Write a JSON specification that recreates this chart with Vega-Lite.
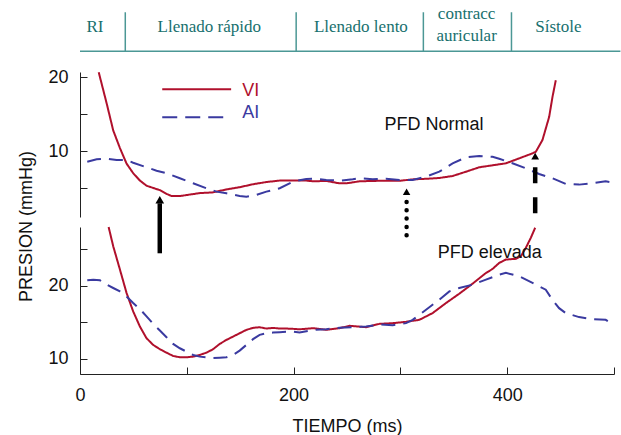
{
  "$schema": "https://vega.github.io/schema/vega-lite/v6.json",
  "padding": {"left": 17, "top": 4, "right": 5, "bottom": 5},
  "spacing": 10,
  "bounds": "flush",
  "config": {
    "view": {"stroke": null},
    "font": "Liberation Sans",
    "axis": {
      "domainColor": "#222222", "tickColor": "#222222", "labelColor": "#111111", "titleColor": "#111111",
      "labelFont": "Liberation Sans", "titleFont": "Liberation Sans",
      "labelFontSize": 18, "titleFontSize": 18, "titleFontWeight": "normal",
      "tickSize": -7, "labelPadding": 19, "grid": false, "labelFlush": false
    }
  },
  "datasets": {
    "normal": [
      {"serie":"VI","t":17.5,"p":20.7},{"serie":"VI","t":24.9,"p":16.5},{"serie":"VI","t":31.1,"p":12.8},{"serie":"VI","t":37.4,"p":10.4},{"serie":"VI","t":43.6,"p":8.3},{"serie":"VI","t":49.8,"p":7.0},{"serie":"VI","t":56.1,"p":6.0},{"serie":"VI","t":62.3,"p":5.3},{"serie":"VI","t":68.5,"p":5.0},{"serie":"VI","t":74.8,"p":4.7},{"serie":"VI","t":81.0,"p":4.2},{"serie":"VI","t":85.7,"p":3.9},{"serie":"VI","t":93.5,"p":3.9},{"serie":"VI","t":102.8,"p":4.1},{"serie":"VI","t":112.1,"p":4.3},{"serie":"VI","t":124.6,"p":4.4},{"serie":"VI","t":137.1,"p":4.8},{"serie":"VI","t":149.5,"p":5.1},{"serie":"VI","t":162.0,"p":5.5},{"serie":"VI","t":174.5,"p":5.8},{"serie":"VI","t":187.0,"p":6.0},{"serie":"VI","t":199.3,"p":6.0},{"serie":"VI","t":211.9,"p":6.0},{"serie":"VI","t":218.1,"p":5.9},{"serie":"VI","t":230.6,"p":5.95},{"serie":"VI","t":243.0,"p":5.62},{"serie":"VI","t":249.3,"p":5.62},{"serie":"VI","t":261.7,"p":5.9},{"serie":"VI","t":280.4,"p":5.97},{"serie":"VI","t":299.1,"p":5.97},{"serie":"VI","t":311.5,"p":6.16},{"serie":"VI","t":324.0,"p":6.24},{"serie":"VI","t":336.4,"p":6.35},{"serie":"VI","t":348.9,"p":6.62},{"serie":"VI","t":361.4,"p":7.2},{"serie":"VI","t":373.8,"p":7.8},{"serie":"VI","t":386.3,"p":8.07},{"serie":"VI","t":398.8,"p":8.34},{"serie":"VI","t":411.2,"p":9.01},{"serie":"VI","t":423.7,"p":9.69},{"serie":"VI","t":426.8,"p":9.91},{"serie":"VI","t":433.0,"p":11.49},{"serie":"VI","t":439.3,"p":14.64},{"serie":"VI","t":442.4,"p":17.34},{"serie":"VI","t":445.5,"p":19.6},
      {"serie":"AI","t":6.8,"p":8.55},{"serie":"AI","t":15.6,"p":8.88},{"serie":"AI","t":24.9,"p":8.96},{"serie":"AI","t":34.3,"p":8.78},{"serie":"AI","t":43.6,"p":8.78},{"serie":"AI","t":49.8,"p":8.42},{"serie":"AI","t":62.3,"p":7.8},{"serie":"AI","t":71.7,"p":7.34},{"serie":"AI","t":81.0,"p":6.99},{"serie":"AI","t":93.5,"p":6.31},{"serie":"AI","t":105.9,"p":5.64},{"serie":"AI","t":118.4,"p":4.96},{"serie":"AI","t":127.8,"p":4.5},{"serie":"AI","t":137.1,"p":4.28},{"serie":"AI","t":149.5,"p":3.92},{"serie":"AI","t":155.8,"p":3.82},{"serie":"AI","t":165.1,"p":4.05},{"serie":"AI","t":174.5,"p":4.5},{"serie":"AI","t":187.0,"p":4.96},{"serie":"AI","t":199.3,"p":5.85},{"serie":"AI","t":211.9,"p":6.22},{"serie":"AI","t":218.1,"p":6.26},{"serie":"AI","t":230.6,"p":6.08},{"serie":"AI","t":243.0,"p":5.99},{"serie":"AI","t":255.4,"p":6.17},{"serie":"AI","t":261.7,"p":6.31},{"serie":"AI","t":274.1,"p":6.17},{"serie":"AI","t":286.6,"p":6.26},{"serie":"AI","t":299.1,"p":6.08},{"serie":"AI","t":311.5,"p":6.08},{"serie":"AI","t":324.0,"p":6.53},{"serie":"AI","t":336.4,"p":7.2},{"serie":"AI","t":348.9,"p":8.34},{"serie":"AI","t":361.4,"p":9.15},{"serie":"AI","t":373.8,"p":9.32},{"serie":"AI","t":386.3,"p":9.23},{"serie":"AI","t":392.5,"p":8.96},{"serie":"AI","t":404.9,"p":8.34},{"serie":"AI","t":417.4,"p":7.66},{"serie":"AI","t":429.9,"p":6.89},{"serie":"AI","t":442.3,"p":6.31},{"serie":"AI","t":454.8,"p":5.54},{"serie":"AI","t":467.3,"p":5.45},{"serie":"AI","t":479.7,"p":5.63},{"serie":"AI","t":492.2,"p":5.9},{"serie":"AI","t":500,"p":5.72}
    ],
    "elevada": [
      {"serie":"VI","t":26.8,"p":28.0},{"serie":"VI","t":31.1,"p":25.38},{"serie":"VI","t":37.4,"p":22.19},{"serie":"VI","t":43.6,"p":19.0},{"serie":"VI","t":49.8,"p":16.48},{"serie":"VI","t":56.1,"p":14.42},{"serie":"VI","t":62.3,"p":12.83},{"serie":"VI","t":68.5,"p":11.92},{"serie":"VI","t":74.8,"p":11.33},{"serie":"VI","t":81.0,"p":10.86},{"serie":"VI","t":87.2,"p":10.41},{"serie":"VI","t":93.5,"p":10.23},{"serie":"VI","t":99.7,"p":10.23},{"serie":"VI","t":106.0,"p":10.32},{"serie":"VI","t":112.1,"p":10.55},{"serie":"VI","t":118.4,"p":10.86},{"serie":"VI","t":124.6,"p":11.33},{"serie":"VI","t":130.8,"p":12.05},{"serie":"VI","t":137.1,"p":12.6},{"serie":"VI","t":143.3,"p":13.05},{"serie":"VI","t":149.5,"p":13.51},{"serie":"VI","t":155.8,"p":13.97},{"serie":"VI","t":162.0,"p":14.24},{"serie":"VI","t":168.2,"p":14.33},{"serie":"VI","t":174.5,"p":14.15},{"serie":"VI","t":180.7,"p":14.24},{"serie":"VI","t":187.0,"p":14.15},{"serie":"VI","t":193.2,"p":14.15},{"serie":"VI","t":199.3,"p":14.11},{"serie":"VI","t":205.6,"p":14.05},{"serie":"VI","t":218.1,"p":14.2},{"serie":"VI","t":230.6,"p":13.97},{"serie":"VI","t":243.0,"p":14.2},{"serie":"VI","t":252.3,"p":14.52},{"serie":"VI","t":267.9,"p":14.34},{"serie":"VI","t":280.4,"p":14.79},{"serie":"VI","t":292.8,"p":14.88},{"serie":"VI","t":305.3,"p":15.07},{"serie":"VI","t":317.8,"p":15.34},{"serie":"VI","t":330.2,"p":16.26},{"serie":"VI","t":342.7,"p":17.63},{"serie":"VI","t":355.1,"p":18.9},{"serie":"VI","t":367.6,"p":20.27},{"serie":"VI","t":380.1,"p":21.73},{"serie":"VI","t":386.3,"p":22.28},{"serie":"VI","t":392.5,"p":23.1},{"serie":"VI","t":398.8,"p":23.56},{"serie":"VI","t":408.1,"p":23.66},{"serie":"VI","t":412.8,"p":24.01},{"serie":"VI","t":417.4,"p":25.15},{"serie":"VI","t":422.1,"p":26.52},{"serie":"VI","t":426.2,"p":27.9},
      {"serie":"AI","t":6.8,"p":20.73},{"serie":"AI","t":12.4,"p":20.82},{"serie":"AI","t":18.7,"p":20.73},{"serie":"AI","t":24.9,"p":20.14},{"serie":"AI","t":31.1,"p":19.68},{"serie":"AI","t":37.4,"p":19.22},{"serie":"AI","t":43.6,"p":18.53},{"serie":"AI","t":49.8,"p":17.63},{"serie":"AI","t":56.1,"p":16.81},{"serie":"AI","t":62.3,"p":15.8},{"serie":"AI","t":68.5,"p":14.79},{"serie":"AI","t":74.8,"p":13.88},{"serie":"AI","t":81.0,"p":12.97},{"serie":"AI","t":87.2,"p":12.05},{"serie":"AI","t":93.5,"p":11.46},{"serie":"AI","t":99.7,"p":11.0},{"serie":"AI","t":106.0,"p":10.55},{"serie":"AI","t":112.1,"p":10.32},{"serie":"AI","t":118.4,"p":10.23},{"serie":"AI","t":124.6,"p":10.14},{"serie":"AI","t":130.8,"p":10.18},{"serie":"AI","t":137.1,"p":10.23},{"serie":"AI","t":143.3,"p":10.55},{"serie":"AI","t":149.5,"p":11.14},{"serie":"AI","t":155.8,"p":11.92},{"serie":"AI","t":162.0,"p":12.7},{"serie":"AI","t":168.2,"p":13.29},{"serie":"AI","t":174.5,"p":13.51},{"serie":"AI","t":180.7,"p":13.6},{"serie":"AI","t":187.0,"p":13.66},{"serie":"AI","t":193.2,"p":13.7},{"serie":"AI","t":199.3,"p":13.74},{"serie":"AI","t":205.6,"p":13.6},{"serie":"AI","t":218.1,"p":13.97},{"serie":"AI","t":230.6,"p":14.07},{"serie":"AI","t":243.0,"p":14.25},{"serie":"AI","t":255.4,"p":14.34},{"serie":"AI","t":267.9,"p":14.42},{"serie":"AI","t":280.4,"p":14.7},{"serie":"AI","t":292.8,"p":14.61},{"serie":"AI","t":305.3,"p":14.89},{"serie":"AI","t":311.5,"p":15.34},{"serie":"AI","t":324.0,"p":16.71},{"serie":"AI","t":336.4,"p":18.08},{"serie":"AI","t":345.8,"p":19.22},{"serie":"AI","t":355.1,"p":19.68},{"serie":"AI","t":367.6,"p":20.14},{"serie":"AI","t":380.1,"p":20.82},{"serie":"AI","t":392.5,"p":21.51},{"serie":"AI","t":398.8,"p":21.74},{"serie":"AI","t":411.2,"p":21.28},{"serie":"AI","t":423.7,"p":20.37},{"serie":"AI","t":436.1,"p":19.45},{"serie":"AI","t":442.3,"p":18.08},{"serie":"AI","t":448.6,"p":16.93},{"serie":"AI","t":454.8,"p":16.26},{"serie":"AI","t":467.3,"p":15.71},{"serie":"AI","t":479.7,"p":15.43},{"serie":"AI","t":492.2,"p":15.34},{"serie":"AI","t":500,"p":14.66}
    ],
    "fases": [
      {"fase":"RI","t":14},{"fase":"Llenado rápido","t":121},{"fase":"Llenado lento","t":263},{"fase":"Sístole","t":448}
    ],
    "limites": [{"t":42.4},{"t":202.4},{"t":321.5},{"t":404}]
  },
  "vconcat": [
    {
      "width": 534,
      "height": 145,
      "layer": [
        {
          "data": {"name": "normal"},
          "mark": {"type": "line", "strokeWidth": 2},
          "encoding": {
            "x": {"field": "t", "type": "quantitative", "scale": {"domain": [0, 500], "nice": false, "zero": false}, "axis": null},
            "y": {"field": "p", "type": "quantitative", "scale": {"domain": [1.06, 20.72], "nice": false, "zero": false},
                  "axis": {"values": [5, 10, 15, 20], "labelExpr": "datum.value % 10 === 0 ? datum.label : ''", "title": "PRESION (mmHg)", "titleY": 154, "titlePadding": 12}},
            "color": {"field": "serie", "type": "nominal", "scale": {"domain": ["VI", "AI"], "range": ["#b0102c", "#3a3aa0"]}, "legend": null},
            "strokeDash": {"field": "serie", "type": "nominal", "scale": {"domain": ["VI", "AI"], "range": [[1, 0], [14, 8]]}, "legend": null}
          }
        },
        {
          "data": {"name": "limites"},
          "mark": {"type": "rule", "color": "#4b9795", "strokeWidth": 1.5},
          "encoding": {"x": {"field": "t", "type": "quantitative"}, "y": {"datum": 23.55}, "y2": {"datum": 28.82}}
        },
        {
          "data": {"values": [{}]},
          "mark": {"type": "rule", "color": "#4b9795", "strokeWidth": 1.5},
          "encoding": {"x": {"datum": 0}, "x2": {"datum": 506}, "y": {"datum": 23.55}}
        },
        {
          "data": {"name": "fases"},
          "mark": {"type": "text", "font": "Liberation Serif", "fontSize": 17, "color": "#17706e", "align": "center", "baseline": "middle"},
          "encoding": {"x": {"field": "t", "type": "quantitative"}, "y": {"datum": 26.77}, "text": {"field": "fase"}}
        },
        {
          "data": {"values": [{}]},
          "mark": {"type": "text", "font": "Liberation Serif", "fontSize": 17, "color": "#17706e", "align": "center", "baseline": "middle", "lineBreak": "\n", "lineHeight": 22, "text": "contracc\nauricular"},
          "encoding": {"x": {"datum": 362}, "y": {"datum": 28.63}}
        },
        {
          "data": {"values": [{}]},
          "mark": {"type": "rule", "color": "#b0102c", "strokeWidth": 2},
          "encoding": {"x": {"datum": 77}, "x2": {"datum": 141.5}, "y": {"datum": 18.37}}
        },
        {
          "data": {"values": [{}]},
          "mark": {"type": "rule", "color": "#3a3aa0", "strokeWidth": 2, "strokeDash": [15, 8]},
          "encoding": {"x": {"datum": 77}, "x2": {"datum": 137}, "y": {"datum": 14.6}}
        },
        {
          "data": {"values": [{}]},
          "mark": {"type": "text", "fontSize": 18, "color": "#b0102c", "align": "left", "baseline": "middle", "text": "VI"},
          "encoding": {"x": {"datum": 152}, "y": {"datum": 18.1}}
        },
        {
          "data": {"values": [{}]},
          "mark": {"type": "text", "fontSize": 18, "color": "#3a3aa0", "align": "left", "baseline": "middle", "text": "AI"},
          "encoding": {"x": {"datum": 152}, "y": {"datum": 15.1}}
        },
        {
          "data": {"values": [{}]},
          "mark": {"type": "text", "fontSize": 18, "color": "#111111", "align": "left", "baseline": "middle", "text": "PFD Normal"},
          "encoding": {"x": {"datum": 285}, "y": {"datum": 13.52}}
        },
        {
          "data": {"values": [{}]},
          "mark": {"type": "rule", "color": "#000000", "strokeWidth": 4.5},
          "encoding": {"x": {"datum": 74.7}, "y": {"datum": 2.92}, "y2": {"datum": -3.86}}
        },
        {
          "data": {"values": [{}]},
          "mark": {"type": "point", "shape": "triangle-up", "filled": true, "size": 75, "color": "#000000", "opacity": 1},
          "encoding": {"x": {"datum": 74.7}, "y": {"datum": 3.4}}
        },
        {
          "data": {"values": [{}]},
          "mark": {"type": "rule", "color": "#000000", "strokeWidth": 4.5, "strokeDash": [0.01, 8.3], "strokeCap": "round"},
          "encoding": {"x": {"datum": 305.8}, "y": {"datum": 3.1}, "y2": {"datum": -1.43}}
        },
        {
          "data": {"values": [{}]},
          "mark": {"type": "point", "shape": "triangle-up", "filled": true, "size": 55, "color": "#000000", "opacity": 1},
          "encoding": {"x": {"datum": 305.8}, "y": {"datum": 4.48}}
        },
        {
          "data": {"values": [{}]},
          "mark": {"type": "rule", "color": "#000000", "strokeWidth": 4.5, "strokeDash": [16, 14]},
          "encoding": {"x": {"datum": 426.2}, "y": {"datum": 7.82}, "y2": {"datum": 1.57}}
        },
        {
          "data": {"values": [{}]},
          "mark": {"type": "point", "shape": "triangle-up", "filled": true, "size": 60, "color": "#000000", "opacity": 1},
          "encoding": {"x": {"datum": 426.2}, "y": {"datum": 9.31}}
        }
      ]
    },
    {
      "width": 534,
      "height": 147,
      "layer": [
        {
          "data": {"name": "elevada"},
          "mark": {"type": "line", "strokeWidth": 2},
          "encoding": {
            "x": {"field": "t", "type": "quantitative", "scale": {"domain": [0, 500], "nice": false, "zero": false},
                  "axis": {"values": [0, 100, 200, 300, 400, 500], "labelExpr": "datum.value % 200 === 0 ? datum.label : ''", "title": "TIEMPO (ms)", "titlePadding": 13}},
            "y": {"field": "p", "type": "quantitative", "scale": {"domain": [7.95, 28.0], "nice": false, "zero": false},
                  "axis": {"values": [10, 15, 20, 25], "labelExpr": "datum.value % 10 === 0 ? datum.label : ''", "title": null}},
            "color": {"field": "serie", "type": "nominal", "scale": {"domain": ["VI", "AI"], "range": ["#b0102c", "#3a3aa0"]}, "legend": null},
            "strokeDash": {"field": "serie", "type": "nominal", "scale": {"domain": ["VI", "AI"], "range": [[1, 0], [14, 8]]}, "legend": null}
          }
        },
        {
          "data": {"values": [{}]},
          "mark": {"type": "text", "fontSize": 18, "color": "#111111", "align": "left", "baseline": "middle", "text": "PFD elevada"},
          "encoding": {"x": {"datum": 335}, "y": {"datum": 24.46}}
        }
      ]
    }
  ]
}
